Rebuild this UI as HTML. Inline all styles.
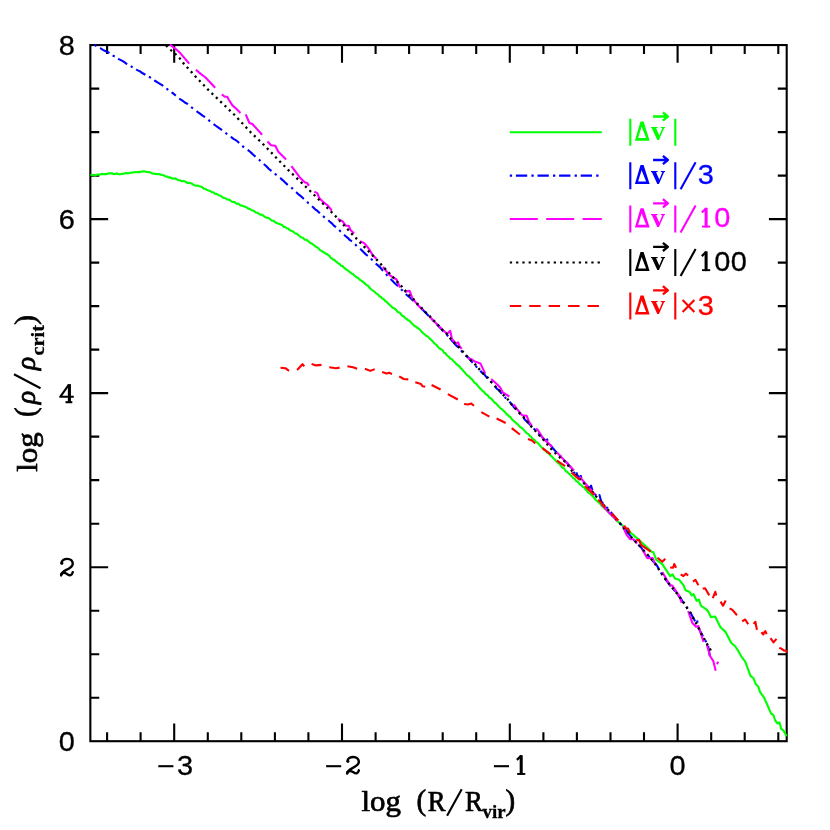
<!DOCTYPE html>
<html><head><meta charset="utf-8"><title>chart</title>
<style>html,body{margin:0;padding:0;background:#fff}svg{display:block}</style></head>
<body>
<svg width="830" height="830" viewBox="0 0 830 830" style="will-change:transform">
<rect width="830" height="830" fill="#fff"/>
<defs><clipPath id="c"><rect x="89.35" y="44.05" width="698.35" height="698.1500000000001"/></clipPath></defs>
<g stroke="#000" stroke-width="2.1" fill="none">
<rect x="90.35" y="45.05" width="696.35" height="696.15"/>
<path d="M107.1 741.2v-8.9M107.1 45.05v8.9M140.6 741.2v-8.9M140.6 45.05v8.9M174.2 741.2v-17.8M174.2 45.05v17.8M207.8 741.2v-8.9M207.8 45.05v8.9M241.3 741.2v-8.9M241.3 45.05v8.9M274.9 741.2v-8.9M274.9 45.05v8.9M308.4 741.2v-8.9M308.4 45.05v8.9M342.0 741.2v-17.8M342.0 45.05v17.8M375.6 741.2v-8.9M375.6 45.05v8.9M409.1 741.2v-8.9M409.1 45.05v8.9M442.7 741.2v-8.9M442.7 45.05v8.9M476.2 741.2v-8.9M476.2 45.05v8.9M509.8 741.2v-17.8M509.8 45.05v17.8M543.4 741.2v-8.9M543.4 45.05v8.9M576.9 741.2v-8.9M576.9 45.05v8.9M610.5 741.2v-8.9M610.5 45.05v8.9M644.0 741.2v-8.9M644.0 45.05v8.9M677.6 741.2v-17.8M677.6 45.05v17.8M711.2 741.2v-8.9M711.2 45.05v8.9M744.7 741.2v-8.9M744.7 45.05v8.9M778.3 741.2v-8.9M778.3 45.05v8.9M90.35 697.7h8.9M786.7 697.7h-8.9M90.35 654.2h8.9M786.7 654.2h-8.9M90.35 610.7h8.9M786.7 610.7h-8.9M90.35 567.2h17.8M786.7 567.2h-17.8M90.35 523.7h8.9M786.7 523.7h-8.9M90.35 480.1h8.9M786.7 480.1h-8.9M90.35 436.6h8.9M786.7 436.6h-8.9M90.35 393.1h17.8M786.7 393.1h-17.8M90.35 349.6h8.9M786.7 349.6h-8.9M90.35 306.1h8.9M786.7 306.1h-8.9M90.35 262.6h8.9M786.7 262.6h-8.9M90.35 219.1h17.8M786.7 219.1h-17.8M90.35 175.6h8.9M786.7 175.6h-8.9M90.35 132.1h8.9M786.7 132.1h-8.9M90.35 88.6h8.9M786.7 88.6h-8.9"/>
</g>
<g fill="none" stroke-width="2.1" stroke-linejoin="round" clip-path="url(#c)">
<polyline stroke="#0f0" points="90.4,174.7 92.7,175.0 95.0,175.6 96.7,174.8 98.3,174.6 100.0,174.5 101.7,173.9 103.4,174.1 105.1,174.1 106.8,174.1 108.5,173.2 110.2,173.4 111.9,173.2 113.6,174.1 115.3,174.0 117.0,173.3 118.6,174.3 120.2,174.2 121.8,173.9 123.4,173.8 125.0,173.3 126.6,173.1 128.3,173.4 130.0,172.7 131.6,172.6 133.3,172.4 135.0,172.0 136.7,172.2 138.5,171.9 140.2,172.1 142.0,171.5 143.7,171.4 145.3,171.5 146.8,172.0 148.4,172.1 150.0,172.2 151.8,173.3 153.7,173.7 155.5,173.9 157.3,174.1 158.9,174.1 160.5,174.5 162.1,175.0 163.7,175.2 165.3,176.4 166.9,176.5 168.5,177.4 170.1,177.3 171.7,178.4 173.3,178.7 174.9,178.3 176.5,179.0 178.1,180.2 179.8,180.2 181.4,181.2 183.0,181.1 184.6,181.2 186.2,182.2 187.8,183.0 189.4,182.9 191.0,183.3 192.6,184.1 194.3,185.3 195.9,185.7 197.5,185.5 199.1,186.2 200.7,186.6 202.3,187.2 203.9,188.8 205.4,188.8 207.0,190.0 208.6,190.6 210.2,191.0 211.8,192.3 213.4,192.4 214.9,193.7 216.5,193.9 218.1,194.9 219.6,195.4 221.1,196.1 222.6,197.5 224.1,198.0 225.6,198.2 227.1,199.5 228.6,199.4 230.1,200.3 231.6,201.5 233.1,201.9 234.6,202.0 236.1,203.6 237.6,203.5 239.1,204.2 240.6,205.4 242.1,205.6 243.6,206.3 245.1,206.7 246.7,207.4 248.2,208.6 249.7,208.9 251.2,210.0 252.7,210.4 254.2,211.1 255.7,212.5 257.2,212.7 258.7,213.6 260.2,214.6 261.7,214.6 263.2,215.4 264.8,217.0 266.3,217.6 267.8,217.7 269.3,218.4 270.8,219.8 272.3,220.8 273.7,220.7 275.2,222.3 276.6,223.0 278.0,223.5 279.5,224.1 280.9,224.5 282.4,225.2 283.8,227.0 285.2,227.0 286.7,228.3 288.1,228.5 289.5,230.0 290.9,230.6 292.3,231.2 293.6,231.9 295.0,233.4 296.4,233.5 297.8,234.6 299.2,235.8 300.6,237.0 301.9,237.6 303.3,238.1 304.7,239.7 306.1,239.8 307.5,240.5 308.9,241.7 310.3,242.9 311.7,243.4 313.1,244.5 314.5,245.6 315.8,246.8 317.2,247.3 318.6,248.5 320.0,250.0 321.4,251.0 322.8,251.6 324.2,252.6 325.5,253.5 326.8,254.0 328.1,254.8 329.4,255.8 330.7,257.8 332.0,258.5 333.2,259.8 334.5,259.8 335.8,261.4 337.1,262.2 338.4,263.5 339.7,264.0 341.0,265.8 342.3,265.7 343.6,267.2 344.9,268.4 346.2,269.5 347.5,270.3 348.8,271.2 350.1,272.3 351.4,273.4 352.6,273.8 353.9,275.1 355.2,276.3 356.5,277.2 357.8,277.7 359.1,279.1 360.4,280.1 361.7,280.9 363.0,282.0 364.3,282.8 365.5,284.2 366.8,285.3 368.1,285.8 369.4,287.5 370.7,289.0 372.0,290.0 373.3,290.9 374.5,291.6 375.8,293.1 377.1,294.0 378.4,294.9 379.7,296.5 381.0,296.8 382.3,298.6 383.6,299.0 384.9,300.7 386.2,301.7 387.4,302.6 388.7,304.2 390.0,305.1 391.3,306.3 392.6,307.8 393.9,308.2 395.2,309.0 396.5,310.5 397.8,311.9 399.1,312.4 400.4,313.4 401.7,315.3 402.9,316.0 404.2,316.8 405.5,318.4 406.8,318.8 408.1,320.2 409.4,320.8 410.7,322.1 412.0,323.6 413.2,324.8 414.5,325.9 415.8,326.4 417.1,327.7 418.4,328.5 419.7,329.4 421.0,330.9 422.2,332.4 423.5,333.5 424.8,334.4 426.1,335.8 427.3,336.2 428.5,337.2 429.7,338.7 430.9,339.6 432.1,340.7 433.3,342.1 434.5,343.5 435.8,344.5 437.0,345.4 438.2,347.1 439.4,348.4 440.6,349.0 441.8,349.7 443.0,350.8 444.2,352.9 445.4,353.1 446.6,355.0 447.8,356.0 449.0,356.9 450.2,358.6 451.4,358.9 452.6,360.1 453.9,361.6 455.1,362.3 456.3,364.3 457.5,364.8 458.7,365.9 459.9,366.9 461.1,368.7 462.3,369.6 463.4,371.0 464.6,372.2 465.7,373.6 466.8,374.9 468.0,375.8 469.1,376.5 470.2,377.9 471.4,378.8 472.5,379.8 473.6,381.5 474.7,382.9 475.9,383.5 477.0,384.8 478.1,386.1 479.3,387.6 480.4,388.6 481.6,389.9 482.8,391.2 484.0,391.9 485.2,393.5 486.4,394.8 487.6,395.0 488.8,397.1 490.0,398.0 491.2,398.5 492.4,400.0 493.6,401.4 494.8,402.8 496.0,403.4 497.2,404.7 498.4,406.2 499.6,407.3 500.8,408.6 502.0,409.2 503.2,410.6 504.4,411.3 505.6,413.0 506.8,414.3 508.1,415.2 509.3,416.5 510.5,417.1 511.7,419.0 512.9,420.2 514.1,421.4 515.3,422.1 516.5,423.5 517.7,424.2 519.0,426.0 520.2,427.1 521.4,427.7 522.6,428.6 523.9,430.1 525.1,431.4 526.3,432.8 527.5,433.6 528.8,434.3 530.0,436.3 531.2,436.7 532.4,438.6 533.6,439.1 534.9,440.5 536.1,442.1 537.3,442.5 538.5,443.7 539.7,445.2 540.9,446.6 542.1,447.9 543.3,448.8 544.5,450.3 545.8,450.9 547.0,452.6 548.2,452.7 549.4,454.0 550.6,455.5 551.8,456.4 553.0,458.0 554.2,459.1 555.4,460.1 556.6,461.7 557.8,462.6 559.0,463.5 560.2,464.8 561.4,466.5 562.6,467.8 563.9,468.2 565.1,470.1 566.3,471.5 567.5,472.2 568.7,473.5 569.9,474.3 571.1,475.8 572.3,477.0 573.5,478.2 574.7,478.7 575.9,480.8 577.1,481.4 578.3,482.4 579.5,483.9 580.7,484.8 581.9,485.8 583.1,487.1 584.3,487.6 585.5,489.4 586.7,490.4 587.9,492.2 589.2,493.4 590.4,493.9 591.6,495.3 592.8,496.2 594.0,497.7 595.2,499.3 596.4,500.6 597.6,501.4 598.8,502.4 600.0,503.5 601.2,505.1 602.4,506.7 603.6,507.0 604.8,508.9 606.0,509.3 607.2,510.7 608.4,511.9 609.6,513.6 610.8,514.4 612.0,515.7 613.2,517.2 614.5,517.8 615.7,519.7 616.9,520.3 618.1,521.9 619.4,522.7 620.7,523.8 622.0,525.2 623.2,526.2 624.5,527.2 625.8,528.4 627.1,529.6 628.4,530.3 629.7,531.4 631.0,533.0 632.2,534.1 633.5,535.0 634.8,536.5 636.1,537.3 637.4,538.7 638.6,539.1 639.9,540.7 641.1,541.9 642.4,543.0 652.0,552.0 653.3,552.0 656.3,559.9 662.3,564.1 670.1,576.1 672.5,574.3 674.9,578.6 679.2,579.8 683.4,585.2 685.8,590.6 689.4,591.8 691.8,595.4 693.6,594.2 696.6,600.8 699.0,599.6 700.8,605.7 706.3,609.3 708.4,611.7 710.8,617.1 715.1,616.5 720.5,627.3 725.3,631.6 731.3,643.0 734.9,646.0 737.8,650.2 741.4,656.6 745.1,661.4 748.1,669.3 750.5,675.9 753.5,678.3 755.9,684.3 758.3,686.7 760.1,692.2 763.7,697.0 767.3,704.8 771.0,713.3 773.4,715.1 775.2,720.5 777.6,723.5 779.4,722.3 781.2,728.9 783.6,730.7 786.6,736.3"/>
<polyline stroke="#00f" stroke-dasharray="2.3 4.1 10.6 4.1" points="94.6,44.8 97.4,46.7 100.2,48.0 102.9,49.9 105.7,51.3 108.5,52.4 111.1,54.5 113.7,56.1 116.3,57.1 118.8,59.1 121.4,60.4 124.0,61.9 126.6,63.8 129.2,65.0 131.9,66.9 134.6,68.7 137.3,70.1 140.0,71.4 142.7,73.3 145.4,74.7 148.5,76.5 151.5,78.2 154.6,80.5 157.5,82.3 160.4,84.1 163.3,85.9 167.6,89.4 170.3,91.2 173.1,93.4 175.8,95.6"/>
<polyline stroke="#00f" stroke-dasharray="10.4 4.3 2.3 4.45" points="179.2,98.6 182.1,100.3 184.9,102.5 187.8,104.2 192.2,107.9 194.8,109.6 197.4,111.8 200.0,113.7 202.6,115.6 205.2,117.2 207.8,119.1 210.3,121.7 212.9,123.6 215.5,125.5 218.1,127.3 220.7,129.1 223.2,131.3 225.8,133.1 228.4,134.9 231.0,136.9 233.5,138.8 236.1,140.3 238.4,142.3 240.8,144.7 243.1,146.6 245.4,148.5 247.7,149.9 250.1,151.8 252.4,153.9 254.7,156.1 257.1,158.3 259.4,160.0 261.7,162.4 264.0,164.2 266.4,166.2 268.7,168.7 271.0,170.6 273.3,172.5 275.6,174.3 278.0,176.3 280.3,178.0 282.6,180.1 284.9,182.3 287.2,184.4 289.6,185.9 291.9,188.0 294.2,190.6 296.5,192.5 298.9,194.7 301.2,196.4 303.5,198.6 305.9,200.5 308.2,203.0 310.5,204.7 312.8,207.0 315.2,209.3 317.5,210.9 319.9,213.2 322.3,215.4 324.8,217.7 327.2,219.4 329.6,221.5 331.9,223.4 334.1,225.9 336.4,227.4 338.6,229.5 340.9,231.8 343.2,233.8 345.4,236.0 347.7,237.8 350.0,240.2 352.4,241.7 354.7,243.9 357.0,246.3 359.3,248.0 361.7,250.2 364.0,252.6 366.3,254.7 368.6,256.6 370.9,258.7 373.3,261.0 375.6,263.5 377.9,265.4 380.2,267.4 382.3,270.0 384.3,272.1 386.4,274.6 388.5,276.8 390.6,279.0 392.6,280.9 394.7,283.3 397.1,285.3 399.5,287.6 401.9,290.0 404.4,292.7 406.8,295.0 409.2,296.8 411.6,299.2 414.0,301.4 416.5,303.7 418.9,305.9 444.2,331.9 446.5,334.1 448.7,337.0 451.0,339.8 453.2,341.9 455.5,344.8 457.8,346.9 460.0,348.9 462.3,352.1 464.5,354.5 466.6,356.1 468.8,358.0 471.0,360.9 473.1,363.2 475.3,365.4 477.5,368.2 479.7,370.1 481.8,372.5 484.0,373.9 486.2,376.8 488.3,379.4 490.5,380.9 492.7,383.3 494.9,386.4 497.0,388.9 499.2,390.3 501.4,393.3 503.5,395.0 505.7,398.1 507.8,400.3 509.9,402.2 512.0,404.5 514.1,407.5 516.2,409.6 518.4,412.2 520.5,414.1 522.6,416.4 524.7,419.5 526.8,421.5 528.9,423.6 531.2,425.9 533.4,428.3 535.7,430.5 538.0,433.2 540.4,434.9 542.7,437.8 545.0,440.0 546.3,436.9 548.0,441.9 550.5,445.2 553.1,448.5 555.7,451.4 558.4,453.9 561.0,456.6 563.2,459.2 565.4,461.6 567.6,463.4 569.4,465.8 571.2,467.9 573.0,471.1 575.0,474.1 576.0,471.4 577.5,475.6 579.5,477.6 580.8,475.9 582.5,480.8 584.8,483.8 587.0,485.0 590.0,488.3 591.1,485.7 592.8,491.7 595.4,494.8 598.0,497.1 599.5,495.0 601.0,501.0 603.1,503.6 605.2,506.4 607.3,507.8 609.4,510.4 611.5,512.9 613.6,515.4 615.7,517.9 617.7,520.9 619.8,523.2 621.8,525.2 623.9,527.5 625.9,530.1 627.9,532.4 630.0,535.5 632.0,537.4 634.1,540.1 636.1,542.9 638.7,545.1 641.2,547.5 643.3,550.6 645.3,553.0 647.4,554.6 649.5,557.2 651.6,560.0 653.6,561.8 655.7,563.8 657.6,566.6 659.5,570.7 661.5,573.5 663.4,576.0 665.3,579.2 667.3,581.7 669.4,584.0 671.4,587.3 673.5,589.5 675.5,591.5 677.3,593.6 679.1,596.6 681.0,598.8 682.8,601.8 685.0,604.9 687.2,608.0 689.4,610.7 690.9,613.4 692.4,616.3 693.9,618.9 695.4,622.3 697.0,620.0 697.7,623.7 698.4,627.6 700.6,631.9 702.1,634.9 703.6,637.2 705.4,640.9 707.8,643.0 708.4,647.6 709.0,651.2 709.6,654.8 710.2,657.5"/>
<polyline stroke="#f0f" points="169.9,44.6 176.4,49.5 180.7,53.6 189.2,63.6"/>
<polyline stroke="#f0f" points="195.9,69.7 200.7,73.9 205.5,77.5 215.2,87.8"/>
<polyline stroke="#f0f" points="221.8,94.4 224.8,96.8 227.2,96.8 229.0,100.0 232.6,105.6 236.1,108.5 240.5,113.0"/>
<polyline stroke="#f0f" points="245.7,114.4 249.4,123.0 252.4,124.0 262.1,134.8"/>
<polyline stroke="#f0f" points="267.5,141.6 271.1,145.2 275.3,145.8 278.3,151.8 286.1,159.6"/>
<polyline stroke="#f0f" points="291.4,166.2 299.8,177.4 304.7,182.3 307.1,182.9 308.9,185.9"/>
<polyline stroke="#f0f" points="314.3,191.6 317.3,193.1 319.2,198.0 323.4,202.2 328.2,205.8 331.8,210.6"/>
<polyline stroke="#f0f" points="337.8,219.0 342.7,221.4 345.7,225.7 348.7,225.7 350.5,229.9 354.1,233.5"/>
<polyline stroke="#f0f" points="360.1,241.3 364.3,243.1 369.2,249.2 372.8,255.2 376.4,258.8"/>
<polyline stroke="#f0f" points="383.0,266.8 389.3,274.9 396.5,279.5 400.1,287.6"/>
<polyline stroke="#f0f" points="404.6,292.1 409.6,290.8 412.6,298.8 419.8,307.1 423.0,310.0"/>
<polyline stroke="#f0f" points="428.9,316.1 440.0,327.2 447.2,333.9 449.0,332.0 450.2,330.8 452.0,339.3 456.3,343.5 458.1,342.3 459.3,345.9 461.7,348.9"/>
<polyline stroke="#f0f" points="467.7,358.0 471.3,359.2 474.9,361.6 480.4,363.4 485.2,373.6"/>
<polyline stroke="#f0f" points="491.2,379.0 495.4,382.7 500.2,387.5 502.7,392.3 509.3,396.5"/>
<polyline stroke="#f0f" points="513.5,404.3 517.1,409.2 521.9,415.2 526.7,415.8 528.9,421.7 532.0,426.0"/>
<polyline stroke="#f0f" points="536.0,428.5 537.5,429.5 543.4,438.9 548.8,443.4 552.0,447.0"/>
<polyline stroke="#f0f" points="556.9,452.4 571.4,467.8 574.0,470.5"/>
<polyline stroke="#f0f" points="579.5,476.5 585.0,483.1 595.0,494.5"/>
<polyline stroke="#f0f" points="601.2,503.9 608.4,512.0 615.7,519.3 617.0,521.0"/>
<polyline stroke="#f0f" points="622.9,526.5 626.5,534.6 630.1,539.2 633.7,539.2 637.0,543.5"/>
<polyline stroke="#f0f" points="642.4,549.6 647.2,558.1 652.7,558.1 655.7,565.3"/>
<polyline stroke="#f0f" points="662.3,571.9 669.5,584.6 672.5,585.8 679.8,596.6 681.6,602.7"/>
<polyline stroke="#f0f" points="688.2,611.1 692.4,623.1 696.0,626.7 698.4,626.1 701.4,635.2 703.6,641.8"/>
<polyline stroke="#f0f" points="706.8,644.5 710.2,656.3 713.3,661.1 715.7,670.7"/>
<polyline stroke="#f0f" points="716.9,664.1 718.3,661.7"/>
<polyline stroke="#000"  stroke-width="2.3" stroke-dasharray="2.2 3.8" stroke-dashoffset="-0.6" points="165.6,45.0 168.2,47.5 170.8,50.0 173.1,52.0 175.4,54.0 177.7,56.2 179.9,58.5 183.3,63.1 185.6,65.7 188.0,68.3 190.3,70.8 192.7,73.4 195.0,76.0 197.3,78.4 199.5,80.7 201.8,83.1 204.1,85.5 206.3,87.8 208.6,90.2 210.8,92.3 213.1,94.5 215.3,96.6 217.5,98.7 219.8,100.9 222.0,103.0 224.4,105.3 226.8,107.5 229.1,109.8 231.5,112.0 233.9,114.3 236.0,116.5 238.1,118.8 240.2,121.0 242.3,123.3 244.4,125.6 246.5,127.8 248.6,130.1 250.7,132.3 253.0,134.5 255.3,136.7 257.6,138.8 259.9,141.0 262.2,143.2 264.4,145.5 266.7,147.8 268.9,150.1 271.1,152.4 273.4,154.7 275.6,157.1 277.9,159.4 280.1,161.7 282.3,164.0 284.6,166.3 286.8,168.6 289.2,170.9 291.6,173.2 294.0,175.5 296.4,177.8 298.8,180.1 301.2,182.4 303.6,184.7 306.0,187.0 308.4,189.3 310.7,191.5 313.0,193.8 315.2,196.0 317.5,198.3 319.8,200.5 322.1,202.8 324.4,205.0 326.7,207.3 328.9,209.5 331.2,211.8 333.5,214.0 335.6,216.2 337.6,218.4 339.6,220.6 341.7,222.8 343.8,225.1 345.8,227.3 347.9,229.5 349.9,231.7 351.9,233.9 354.0,236.1 356.3,238.4 358.5,240.8 360.8,243.2 363.0,245.5 365.3,247.9 367.6,250.2 369.8,252.6 372.1,254.9 374.3,257.2 376.6,259.6 378.8,262.0 381.0,264.4 383.2,266.7 385.4,269.1 387.7,271.5 389.9,273.9 392.1,276.2 394.3,278.6 396.5,281.0 398.5,283.2 400.6,285.2 402.6,287.4 404.6,290.3 406.7,291.8 408.7,294.8 410.8,296.9 412.8,298.3 414.8,300.6 416.9,303.3 418.9,305.1 421.0,307.1 423.1,310.0 425.2,311.8 427.3,314.3 429.4,315.8 431.5,318.3 433.7,320.8 435.8,322.3 437.9,324.7 440.0,327.3 442.1,329.7 444.2,332.0 446.5,333.6 448.7,336.5 451.0,339.2 453.2,341.5 455.5,344.1 457.8,346.1 460.0,348.5 462.3,351.0 464.5,353.2 466.6,356.0 468.8,358.2 471.0,360.5 473.1,362.3 475.3,364.6 477.5,366.9 479.7,369.8 481.8,372.2 484.0,374.4 486.2,375.9 488.3,378.3 490.5,381.5 492.7,383.4 494.9,386.0 497.0,387.9 499.2,390.4 501.4,392.8 503.5,395.1 505.7,397.6 507.8,399.4 509.9,402.4 512.0,404.9 514.1,406.6 516.2,409.3 518.4,411.9 520.5,414.0 522.6,416.1 524.7,418.4 526.8,421.1 528.9,423.0 531.2,426.5 533.5,428.9 535.9,431.4 538.2,434.1 540.5,436.4 542.6,438.7 544.7,441.3 546.8,443.7 548.9,446.7 551.5,449.3 554.1,451.6 556.7,455.0 559.5,457.1 562.4,459.5 565.2,461.8 567.6,464.6 569.9,468.2 572.3,471.4 574.5,473.5 576.6,475.9 578.8,478.2 581.0,480.1 583.1,482.7 585.3,484.4 587.5,486.9 589.7,489.4 591.8,491.2 594.0,493.9 596.2,496.6 598.3,499.0 600.5,501.0 602.7,504.1 604.9,506.3 607.0,508.4 609.2,511.1 611.4,513.4 613.5,515.8 615.7,518.1 617.7,521.1 619.8,523.2 621.8,525.7 623.9,528.2 625.9,530.8 627.9,532.3 630.0,535.3 632.0,537.9 634.1,539.8 636.1,542.4 638.7,544.7 641.2,547.5 643.3,550.0 645.3,552.1 647.4,554.5 649.5,557.5 651.6,559.5 653.6,561.8 655.7,564.6 657.6,567.2 659.5,570.6 661.5,573.3 663.4,576.5 665.3,578.8 667.3,581.8 669.4,584.5 671.4,586.3 673.5,589.7 675.5,591.5 677.3,594.2 679.1,596.3 681.0,599.0 682.8,601.5 685.0,604.2 687.2,608.3 689.4,611.0 690.9,613.8 692.4,616.6 693.9,619.1 695.4,621.7 697.1,625.5 698.9,628.8 700.6,632.0 702.1,635.1 703.6,637.4 706.0,642.5 709.0,646.9 711.3,651.5"/>
<polyline stroke="#f00" points="280.5,367.8 285.4,368.2 289.0,370.9"/>
<polyline stroke="#f00" points="297.1,370.0 302.5,364.2 304.3,366.3"/>
<polyline stroke="#f00" points="311.6,364.0 316.1,365.4 321.5,364.9"/>
<polyline stroke="#f00" points="329.3,367.2 336.0,368.2 339.6,367.6"/>
<polyline stroke="#f00" points="347.4,366.3 353.1,367.2 357.1,368.7"/>
<polyline stroke="#f00" points="364.9,368.7 370.3,370.9 374.8,369.1"/>
<polyline stroke="#f00" points="382.1,372.1 386.6,373.6 389.3,372.7 392.0,374.1"/>
<polyline stroke="#f00" points="399.2,376.3 403.7,379.0 408.3,379.4"/>
<polyline stroke="#f00" points="415.3,382.3 421.0,384.0 422.5,386.3 425.2,386.8"/>
<polyline stroke="#f00" points="431.6,385.0 440.6,389.5"/>
<polyline stroke="#f00" points="447.8,394.1 457.8,399.5"/>
<polyline stroke="#f00" points="464.1,404.0 468.0,404.5 471.3,403.6 474.0,405.8"/>
<polyline stroke="#f00" points="481.3,412.1 489.4,416.7"/>
<polyline stroke="#f00" points="496.6,418.5 505.7,423.0"/>
<polyline stroke="#f00" points="511.7,428.2 519.9,434.5"/>
<polyline stroke="#f00" points="528.0,439.1 532.0,440.5 535.2,443.6"/>
<polyline stroke="#f00" points="542.5,448.1 550.6,454.4"/>
<polyline stroke="#f00" points="556.9,460.7 565.1,466.2"/>
<polyline stroke="#f00" points="571.4,472.5 579.5,479.7"/>
<polyline stroke="#f00" points="584.9,486.0 594.0,495.1"/>
<polyline stroke="#f00" points="598.2,499.6 605.4,507.8"/>
<polyline stroke="#f00" points="611.7,513.6 618.4,520.4"/>
<polyline stroke="#f00" points="624.2,525.7 626.1,528.6 628.1,528.6 630.0,532.9"/>
<polyline stroke="#f00" points="636.3,540.1 639.2,540.1 641.1,544.9 650.7,551.7"/>
<polyline stroke="#f00" points="657.5,557.8 662.3,561.7 665.3,558.7"/>
<polyline stroke="#f00" points="670.1,567.5 673.1,567.7 674.3,564.1 676.1,567.7"/>
<polyline stroke="#f00" points="680.7,574.3 683.4,576.1 685.8,573.7 688.2,575.5"/>
<polyline stroke="#f00" points="693.0,581.6 695.4,579.8 698.4,585.2"/>
<polyline stroke="#f00" points="702.7,588.8 705.1,588.2 709.3,595.4"/>
<polyline stroke="#f00" points="712.8,598.2 715.3,591.8 716.2,595.4"/>
<polyline stroke="#f00" points="720.6,601.6 723.0,605.7 725.7,600.5"/>
<polyline stroke="#f00" points="729.6,608.3 732.4,609.9 737.0,615.3"/>
<polyline stroke="#f00" points="742.2,621.3 745.2,619.5 748.2,624.3"/>
<polyline stroke="#f00" points="753.6,623.9 755.4,621.8 756.9,629.9"/>
<polyline stroke="#f00" points="761.4,632.3 763.3,634.5 764.3,632.2 765.4,631.2 766.6,634.2"/>
<polyline stroke="#f00" points="770.5,638.2 773.5,642.4 776.5,638.8"/>
<polyline stroke="#f00" points="779.2,648.0 781.3,648.6 783.7,650.4 786.1,650.7 787.5,652.2"/>
</g>
<text transform="translate(66.8,54.8) scale(1.06,1)" font-family="Liberation Sans, sans-serif" font-size="27.3" fill="#000" stroke="#000" stroke-width="0.3" text-anchor="middle">8</text>
<text transform="translate(66.8,228.8) scale(1.06,1)" font-family="Liberation Sans, sans-serif" font-size="27.3" fill="#000" stroke="#000" stroke-width="0.3" text-anchor="middle">6</text>
<text transform="translate(66.8,751.0) scale(1.06,1)" font-family="Liberation Sans, sans-serif" font-size="27.3" fill="#000" stroke="#000" stroke-width="0.3" text-anchor="middle">0</text>
<g transform="translate(66.8,393.1)" fill="none" stroke="#000" stroke-linejoin="miter"><path d="M1.9 -8.3L-6.6 3.7H7.0" stroke-width="2.1" stroke-linejoin="round"/><path d="M2.6 -9.0V9.2" stroke-width="3.1"/><path d="M-1.3 9.1H5.5" stroke-width="2.1"/></g>
<g transform="translate(66.8,567.7) scale(0.93)" fill="none" stroke="#000" stroke-width="2.6" stroke-linecap="round" stroke-linejoin="round"><path d="M-5.7 -4.9C-6 -8 -2.6 -9.5 0.5 -9.5C4 -9.5 6.4 -7.4 6.4 -4.3C6.4 -1 3 0.8 -1 2.7C-4 4.1 -5.7 5.8 -6.1 8.3"/><path d="M-6.1 7C-4.5 5.2 -2 5.2 0.6 7C3.2 8.8 5.4 8.7 6.4 4.9"/><circle cx="-5.3" cy="-4.9" r="0.9" fill="#000" stroke-width="1.6"/></g>
<text transform="translate(185.0,775.0) scale(1.06,1)" font-family="Liberation Sans, sans-serif" font-size="27.3" fill="#000" stroke="#000" stroke-width="0.3" text-anchor="middle">3</text>
<path d="M158.3 766.2h15.1" stroke="#000" stroke-width="2.1"/>
<g transform="translate(352.9,765.8) scale(0.93)" fill="none" stroke="#000" stroke-width="2.6" stroke-linecap="round" stroke-linejoin="round"><path d="M-5.7 -4.9C-6 -8 -2.6 -9.5 0.5 -9.5C4 -9.5 6.4 -7.4 6.4 -4.3C6.4 -1 3 0.8 -1 2.7C-4 4.1 -5.7 5.8 -6.1 8.3"/><path d="M-6.1 7C-4.5 5.2 -2 5.2 0.6 7C3.2 8.8 5.4 8.7 6.4 4.9"/><circle cx="-5.3" cy="-4.9" r="0.9" fill="#000" stroke-width="1.6"/></g>
<path d="M326.1 766.2h15.1" stroke="#000" stroke-width="2.1"/>
<g transform="translate(521.2,774.9)" fill="none" stroke="#000"><path d="M0 0V-19.7" stroke-width="3.05"/><path d="M-4.3 -15L0.2 -19.3" stroke-width="2.2"/><path d="M-4.1 -0.95H4.1" stroke-width="1.9"/></g>
<path d="M493.9 766.2h15.1" stroke="#000" stroke-width="2.1"/>
<text transform="translate(677.6,775.0) scale(1.06,1)" font-family="Liberation Sans, sans-serif" font-size="27.3" fill="#000" stroke="#000" stroke-width="0.3" text-anchor="middle">0</text>
<g font-family="Liberation Serif, serif" font-size="29" fill="#000" stroke="#000" stroke-width="0.7">
<text x="361.5" y="810.8" textLength="39.5" lengthAdjust="spacingAndGlyphs">log</text>
<text x="416.6" y="809.5">(</text>
<text transform="translate(427.8,810.8) scale(0.92,1)">R</text>
<text transform="translate(464.9,810.8) scale(0.92,1)">R</text>
<text x="505.6" y="809.5">)</text>
<text x="482.6" y="817.6" font-size="18" font-weight="bold" stroke-width="0.3" textLength="23" lengthAdjust="spacingAndGlyphs">vir</text>
<path d="M447.1 815.8L461.7 789.3" stroke-width="2.1" fill="none"/>
</g>
<g transform="translate(36.5,471.8) rotate(-90)" font-family="Liberation Serif, serif" font-size="29" fill="#000" stroke="#000" stroke-width="0.7">
<text x="0" y="0" textLength="39.5" lengthAdjust="spacingAndGlyphs">log</text>
<text x="54.7" y="-1.3">(</text>
<text x="67.8" y="-1.5" font-size="27.5" font-style="italic" stroke-width="0.8">ρ</text>
<path d="M83.6 4L97.5 -22.5" stroke-width="2.1" fill="none"/>
<text x="101.7" y="-1.5" font-size="27.5" font-style="italic" stroke-width="0.8">ρ</text>
<text x="116.3" y="7.6" font-size="18" font-weight="bold" stroke-width="0.3" textLength="30.5" lengthAdjust="spacingAndGlyphs">crit</text>
<text x="147" y="-1.3">)</text>
</g>
<g stroke="#0f0" fill="none" stroke-width="2.1">
<path d="M509.8 132.25H601.8"/>
<path d="M630.3 118.8V145.8M675.3 118.8V145.8"/>
<path d="M653.1 116.5H667.5M662.9 112.5L667.9 116.5L662.9 120.7" stroke-width="2.3" stroke-linejoin="round"/>
</g>
<path fill="#0f0" fill-rule="evenodd" d="M634.9 140.7L640.5 121.6H643.6L649.6 140.7ZM638.1 138.1L641.6 126.8L646.1 138.1Z"/>
<text x="658.1" y="140.1" font-family="Liberation Serif, serif" font-weight="bold" font-size="28" fill="#0f0" text-anchor="middle">v</text>
<g stroke="#00f" fill="none" stroke-width="2.1">
<path d="M509.8 175.65H600" stroke-dasharray="2.3 3.8 11.3 4.2"/>
<path d="M630.3 162.2V189.2M675.3 162.2V189.2"/>
<path d="M653.1 160.0H667.5M662.9 155.8L667.9 160.0L662.9 164.1" stroke-width="2.3" stroke-linejoin="round"/>
<path d="M680.6 189.2L695.6 162.2"/>
</g>
<path fill="#00f" fill-rule="evenodd" d="M634.9 184.1L640.5 165.0H643.6L649.6 184.1ZM638.1 181.5L641.6 170.2L646.1 181.5Z"/>
<text x="658.1" y="183.5" font-family="Liberation Serif, serif" font-weight="bold" font-size="28" fill="#00f" text-anchor="middle">v</text>
<text transform="translate(705.7,184.1) scale(1.06,1)" font-family="Liberation Sans, sans-serif" font-size="27.3" fill="#00f" stroke="#00f" stroke-width="0.3" text-anchor="middle">3</text>
<g stroke="#f0f" fill="none" stroke-width="2.1">
<path d="M509.8 219.0H601.8" stroke-dasharray="28 8.4"/>
<path d="M630.3 205.5V232.5M675.3 205.5V232.5"/>
<path d="M653.1 203.3H667.5M662.9 199.2L667.9 203.3L662.9 207.4" stroke-width="2.3" stroke-linejoin="round"/>
<path d="M680.6 232.5L695.6 205.5"/>
</g>
<path fill="#f0f" fill-rule="evenodd" d="M634.9 227.4L640.5 208.3H643.6L649.6 227.4ZM638.1 224.8L641.6 213.5L646.1 224.8Z"/>
<text x="658.1" y="226.8" font-family="Liberation Serif, serif" font-weight="bold" font-size="28" fill="#f0f" text-anchor="middle">v</text>
<g transform="translate(706.1,227.5)" fill="none" stroke="#f0f"><path d="M0 0V-19.7" stroke-width="3.05"/><path d="M-4.3 -15L0.2 -19.3" stroke-width="2.2"/><path d="M-4.1 -0.95H4.1" stroke-width="1.9"/></g>
<text transform="translate(722.3,227.4) scale(1.06,1)" font-family="Liberation Sans, sans-serif" font-size="27.3" fill="#f0f" stroke="#f0f" stroke-width="0.3" text-anchor="middle">0</text>
<g stroke="#000" fill="none" stroke-width="2.1">
<path d="M509.8 262.55H600" stroke-dasharray="2.3 3.97"/>
<path d="M630.3 249.1V276.1M675.3 249.1V276.1"/>
<path d="M653.1 246.9H667.5M662.9 242.8L667.9 246.9L662.9 251.0" stroke-width="2.3" stroke-linejoin="round"/>
<path d="M680.6 276.1L695.6 249.1"/>
</g>
<path fill="#000" fill-rule="evenodd" d="M634.9 271.0L640.5 251.9H643.6L649.6 271.0ZM638.1 268.4L641.6 257.1L646.1 268.4Z"/>
<text x="658.1" y="270.4" font-family="Liberation Serif, serif" font-weight="bold" font-size="28" fill="#000" text-anchor="middle">v</text>
<g transform="translate(706.1,271.1)" fill="none" stroke="#000"><path d="M0 0V-19.7" stroke-width="3.05"/><path d="M-4.3 -15L0.2 -19.3" stroke-width="2.2"/><path d="M-4.1 -0.95H4.1" stroke-width="1.9"/></g>
<text transform="translate(722.3,271.0) scale(1.06,1)" font-family="Liberation Sans, sans-serif" font-size="27.3" fill="#000" stroke="#000" stroke-width="0.3" text-anchor="middle">0</text>
<text transform="translate(738.9,271.0) scale(1.06,1)" font-family="Liberation Sans, sans-serif" font-size="27.3" fill="#000" stroke="#000" stroke-width="0.3" text-anchor="middle">0</text>
<g stroke="#f00" fill="none" stroke-width="2.1">
<path d="M509.8 306.05H600" stroke-dasharray="11.4 8.03"/>
<path d="M630.3 292.6V319.6M675.3 292.6V319.6"/>
<path d="M653.1 290.4H667.5M662.9 286.2L667.9 290.4L662.9 294.4" stroke-width="2.3" stroke-linejoin="round"/>
<path d="M682.6 300.1L694.4 312.1M694.4 300.1L682.6 312.1"/>
</g>
<path fill="#f00" fill-rule="evenodd" d="M634.9 314.5L640.5 295.4H643.6L649.6 314.5ZM638.1 311.9L641.6 300.6L646.1 311.9Z"/>
<text x="658.1" y="313.9" font-family="Liberation Serif, serif" font-weight="bold" font-size="28" fill="#f00" text-anchor="middle">v</text>
<text transform="translate(705.7,314.5) scale(1.06,1)" font-family="Liberation Sans, sans-serif" font-size="27.3" fill="#f00" stroke="#f00" stroke-width="0.3" text-anchor="middle">3</text>
</svg>
</body></html>
